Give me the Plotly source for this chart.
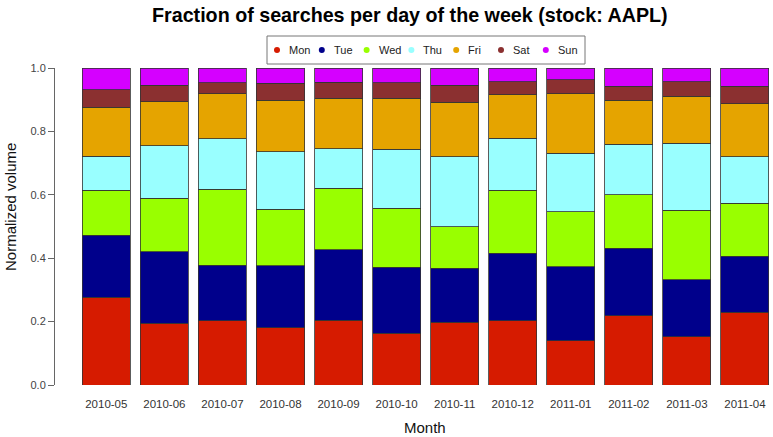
import plotly.graph_objects as go

months = ["2010-05", "2010-06", "2010-07", "2010-08", "2010-09", "2010-10",
          "2010-11", "2010-12", "2011-01", "2011-02", "2011-03", "2011-04"]
days = ["Mon", "Tue", "Wed", "Thu", "Fri", "Sat", "Sun"]

mon = [0.277, 0.195, 0.202, 0.180, 0.204, 0.163, 0.198, 0.203, 0.140, 0.219, 0.153, 0.229]
tue = [0.196, 0.226, 0.175, 0.196, 0.223, 0.209, 0.171, 0.213, 0.233, 0.213, 0.179, 0.177]
wed = [0.142, 0.168, 0.241, 0.179, 0.194, 0.186, 0.130, 0.199, 0.173, 0.168, 0.220, 0.168]
thu = [0.106, 0.165, 0.159, 0.181, 0.125, 0.185, 0.221, 0.163, 0.185, 0.159, 0.210, 0.146]
fri = [0.155, 0.139, 0.141, 0.163, 0.158, 0.161, 0.172, 0.137, 0.187, 0.140, 0.149, 0.168]
sat = [0.055, 0.053, 0.036, 0.053, 0.051, 0.049, 0.054, 0.041, 0.045, 0.044, 0.045, 0.055]
sun = [0.069, 0.054, 0.046, 0.048, 0.045, 0.047, 0.054, 0.044, 0.037, 0.057, 0.044, 0.057]

series = [mon, tue, wed, thu, fri, sat, sun]
colors = ["#D61B00", "#00008B", "#99FF00", "#99FFFF", "#E5A400", "#8B3030", "#D500FF"]

FONT = "Liberation Sans, Arial, Helvetica, sans-serif"
W, H = 773, 437
ML, MR, MT, MB = 55, 0, 68, 52
PW, PH = W - ML - MR, H - MT - MB


def px(x):
    return (x - ML) / PW


def py(y):
    return (H - MB - y) / PH


fig = go.Figure()
for name, vals, col in zip(days, series, colors):
    fig.add_trace(go.Bar(
        x=months, y=vals, name=name, showlegend=False,
        marker=dict(color=col, line=dict(color="#333333", width=0.8)),
    ))

shapes = [dict(type="rect", xref="paper", yref="paper",
               x0=px(267), x1=px(585), y0=py(64), y1=py(36),
               line=dict(color="#777777", width=1), fillcolor="white")]
annotations = []
for i, (name, col) in enumerate(zip(days, colors)):
    cx = 277 + i * 44.8
    shapes.append(dict(type="circle", xref="paper", yref="paper",
                       x0=px(cx - 3), x1=px(cx + 3), y0=py(53), y1=py(47),
                       fillcolor=col, line=dict(color=col, width=0)))
    annotations.append(dict(text=name, xref="paper", yref="paper",
                            x=px(cx + 10), y=py(50), xanchor="left", yanchor="middle",
                            showarrow=False, font=dict(family=FONT, size=11, color="#222")))

annotations += [
    dict(text="<b>Fraction of searches per day of the week (stock: AAPL)</b>",
         xref="paper", yref="paper", x=px(410), y=py(15), xanchor="center", yanchor="middle",
         showarrow=False, font=dict(family=FONT, size=19.7, color="#000")),
    dict(text="Normalized volume", xref="paper", yref="paper", x=px(10), y=py(207),
         xanchor="center", yanchor="middle", textangle=-90, showarrow=False,
         font=dict(family=FONT, size=15, color="#111")),
    dict(text="Month", xref="paper", yref="paper", x=px(425), y=py(427),
         xanchor="center", yanchor="middle", showarrow=False,
         font=dict(family=FONT, size=15, color="#111")),
]

fig.update_layout(
    width=W, height=H,
    margin=dict(l=ML, r=MR, t=MT, b=MB, autoexpand=False),
    barmode="stack", bargap=0.173,
    plot_bgcolor="white", paper_bgcolor="white",
    shapes=shapes, annotations=annotations,
    font=dict(family=FONT, size=11, color="#333"),
)
fig.update_xaxes(type="category", range=[-0.884, 11.483], automargin=False,
                 showgrid=False, zeroline=False, showline=False,
                 ticks="", ticklabelstandoff=10, tickfont=dict(size=11.5, color="#333"))
fig.update_yaxes(range=[0, 1], tickvals=[0, 0.2, 0.4, 0.6, 0.8, 1.0], tickformat=".1f",
                 automargin=False,
                 showgrid=False, zeroline=False, showline=True, linecolor="#666", linewidth=1,
                 ticks="outside", ticklen=6, tickcolor="#666",
                 tickfont=dict(size=11, color="#444"))

fig.write_html("out.html", config={"displayModeBar": False},
               post_script="document.body.style.margin='0';document.body.style.overflow='hidden';")
